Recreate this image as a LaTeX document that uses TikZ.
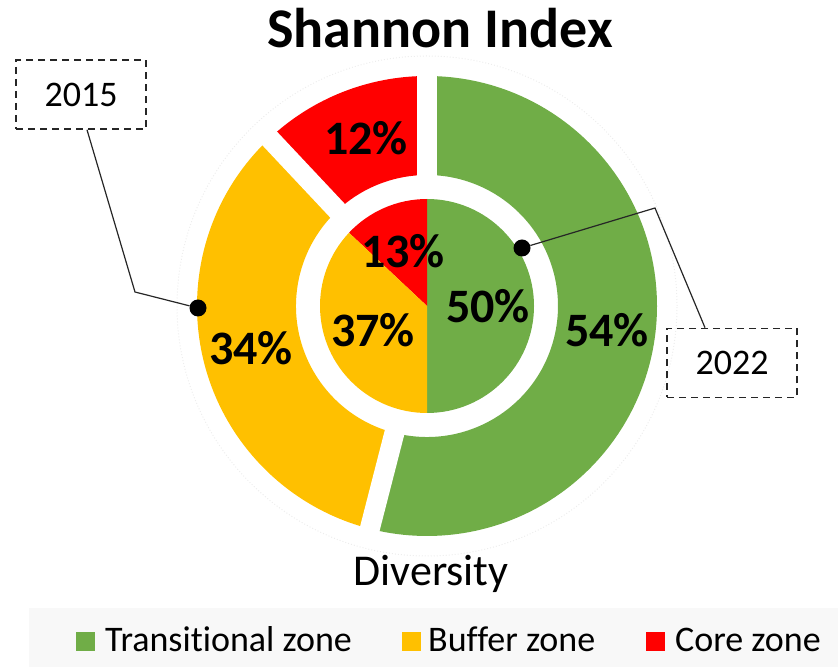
\documentclass[tikz,border=0pt]{standalone}
\usepackage{fontspec}
\setmainfont{Carlito}[Ligatures=NoCommon]
\usetikzlibrary{calc,positioning}
\definecolor{grn}{HTML}{70AD47}
\definecolor{ylw}{HTML}{FFC000}
\definecolor{rd}{HTML}{FF0000}
\definecolor{lgbg}{HTML}{F8F8F8}
\tikzset{
  pct/.style={anchor=base,font=\fontsize{48}{50}\selectfont\bfseries},
  yearbox/.style={draw=black!85,dash pattern=on 7pt off 5pt,line width=1.6pt,minimum width=130pt,minimum height=69pt,inner sep=0pt,font=\fontsize{36}{40}\selectfont},
  pin/.style={circle,fill=black,minimum size=17pt,inner sep=0pt},
  lead/.style={black!85,line width=1.2pt},
  key/.style={minimum size=19pt,inner sep=0pt},
  keytext/.style={anchor=base west,inner sep=0pt,font=\fontsize{36}{40}\selectfont}
}

\begin{document}
\begin{tikzpicture}[x=1pt,y=1pt]%%%doughnut, two rings
\useasboundingbox (0,0) rectangle (838,667);
\coordinate (C) at (427,361);
\draw[black!7,dotted,line width=1pt] (C) circle[radius=250pt];

%%% outer ring (2015)
\fill[grn] ($(C)+(90:230)$) arc[start angle=90,end angle=-104.4,radius=230pt]
	-- ($(C)+(-104.4:131)$) arc[start angle=-104.4,end angle=90,radius=131pt] -- cycle;
\fill[ylw] ($(C)+(133.2:230)$) arc[start angle=133.2,end angle=255.6,radius=230pt]
	-- ($(C)+(255.6:131)$) arc[start angle=255.6,end angle=133.2,radius=131pt] -- cycle;
\fill[rd] ($(C)+(90:230)$) arc[start angle=90,end angle=133.2,radius=230pt]
	-- ($(C)+(133.2:131)$) arc[start angle=133.2,end angle=90,radius=131pt] -- cycle;
\foreach \a in {90,133.2,-104.4}
	\draw[white,line width=20pt] ($(C)+(\a:120)$) -- ($(C)+(\a:240)$);

%%% inner pie (2022)
\fill[grn] (C) -- ++(90:107) arc[start angle=90,end angle=-90,radius=107pt] -- cycle;
\fill[rd] (C) -- ++(90:107) arc[start angle=90,end angle=136.8,radius=107pt] -- cycle;
\fill[ylw] (C) -- ++(136.8:107) arc[start angle=136.8,end angle=270,radius=107pt] -- cycle;

%%% values
\node[pct] (p12) at (366,512) {12\%};
\node[pct] (p34) at (251,302) {34\%};
\node[pct] (p54) at (607,320) {54\%};
\node[pct] (p13) at (403,399) {13\%};
\node[pct] (p37) at (373,320) {37\%};
\node[pct] (p50) at (488,344) {50\%};

%%% titles
\node[anchor=base,font=\fontsize{56}{60}\selectfont\bfseries] (ttl) at (440,619) {Shannon Index};
\node[anchor=base,font=\fontsize{44}{48}\selectfont] (sub) at (431,82) {Diversity};

%%% callouts
\node[yearbox] (b15) at (81,572.5) {2015};
\node[pin] (d15) at (198,359) {};
\coordinate (k15) at (135,375);
\draw[lead] ([xshift=6pt]b15.south) -- (k15) -- (d15);
\node[yearbox] (b22) at (732,304) {2022};
\node[pin] (d22) at (522,419) {};
\coordinate (k22) at (655,459);
\draw[lead] (d22) -- (k22) -- ([xshift=-27pt]b22.north);

%%% legend
\fill[lgbg] (29,0) rectangle (838,59);
\node[key,fill=grn] (kg) at (85.5,25.5) {};
\node[keytext] (tg) at (105,16) {Transitional zone};
\node[key,fill=ylw] (ky) at (411.5,25.5) {};
\node[keytext] (ty) at (428,16) {Buffer zone};
\node[key,fill=rd] (kr) at (655,25.5) {};
\node[keytext] (tr) at (675,16) {Core zone};

\end{tikzpicture}
\end{document}
